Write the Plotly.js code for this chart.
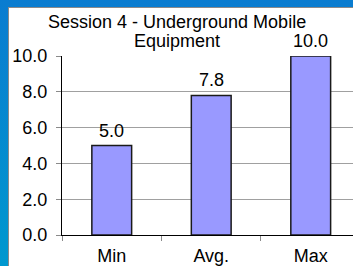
<!DOCTYPE html>
<html>
<head>
<meta charset="utf-8">
<script src="https://cdn.plot.ly/plotly-3.0.1.min.js"></script>
<style>
html, body { margin: 0; padding: 0; width: 353px; height: 266px; overflow: hidden; }
body { background: linear-gradient(to bottom, #0a7cd0, #0098cf); position: relative; }
#frame { position: absolute; left: 8px; top: 7px; width: 345px; height: 259px; background: #ffffff;
  border-left: 1px solid #8a8a8a; border-top: 1px solid #8a8a8a; box-sizing: border-box; }
#chart { width: 344px; height: 258px; }
</style>
</head>
<body>
<div id="frame"><div id="chart"></div></div>
<script>
const categories = ["Min", "Avg.", "Max"];
const values = [5.0, 7.8, 10.0];
const valueLabels = ["5.0", "7.8", "10.0"];
const yTickVals = [0, 2, 4, 6, 8, 10];
const yTickText = ["0.0", "2.0", "4.0", "6.0", "8.0", "10.0"];
const titleLines = ["Session 4 - Underground Mobile", "Equipment"];

const font = { family: "Liberation Sans, Arial, sans-serif", size: 18, color: "#000000" };

const trace = {
  type: "bar",
  x: categories,
  y: values,
  width: 0.4,
  marker: { color: "#9999ff", line: { color: "#1a1a1a", width: 1.5 } },
  hoverinfo: "none"
};

const annotations = categories.map((c, i) => ({
  x: c, y: values[i], xref: "x", yref: "y",
  text: valueLabels[i], showarrow: false,
  yanchor: "middle", yshift: 15,
  font: font
}));

// title as two lines with tighter spacing
const titleY = [13.5, 33.5];
titleLines.forEach((t, i) => {
  annotations.push({
    text: t, showarrow: false, font: font,
    xref: "paper", x: (168 - 53) / 291, xanchor: "center",
    yref: "paper", y: 1 + (48 - titleY[i]) / 179, yanchor: "middle"
  });
});

const layout = {
  width: 344, height: 258,
  margin: { l: 53, r: 0, t: 48, b: 31, pad: 0 },
  paper_bgcolor: "#ffffff",
  plot_bgcolor: "#ffffff",
  font: font,
  showlegend: false,
  xaxis: {
    type: "category",
    range: [-0.5, 2.425],
    tickson: "boundaries",
    ticks: "outside", ticklen: 5, tickcolor: "#8a8a8a", tickwidth: 1,
    showgrid: false,
    showline: true, linecolor: "#000000", linewidth: 1,
    ticklabelstandoff: 4,
    tickfont: font,
    fixedrange: true
  },
  yaxis: {
    range: [0, 10],
    tickvals: yTickVals, ticktext: yTickText,
    ticks: "outside", ticklen: 5, tickcolor: "#8a8a8a", tickwidth: 1,
    showgrid: true, gridcolor: "#a0a0a0", gridwidth: 1,
    showline: true, linecolor: "#000000", linewidth: 1,
    zeroline: false,
    ticklabelstandoff: 5,
    tickfont: font,
    fixedrange: true
  },
  annotations: annotations
};

Plotly.newPlot("chart", [trace], layout, { staticPlot: true, displayModeBar: false });
</script>
</body>
</html>
